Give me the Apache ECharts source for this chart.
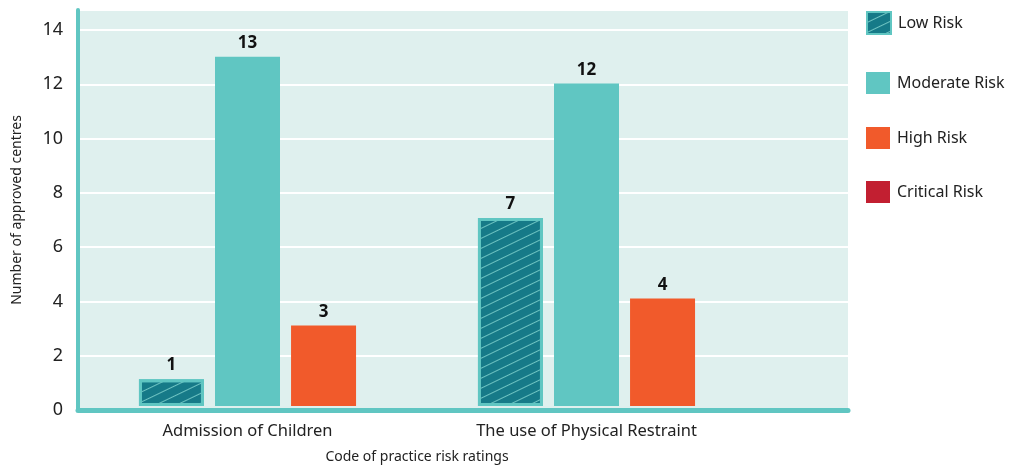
<!DOCTYPE html>
<html>
<head>
<meta charset="utf-8">
<script src="https://cdn.jsdelivr.net/npm/echarts@6/dist/echarts.min.js"></script>
<style>
  html, body { margin: 0; padding: 0; background: #ffffff; }
  #chart { width: 1010px; height: 469px; }
</style>
</head>
<body>
<div id="chart"></div>
<script>
// Code of practice risk ratings by category
const categories = ['Admission of Children', 'The use of Physical Restraint'];
const seriesNames = ['Low Risk', 'Moderate Risk', 'High Risk', 'Critical Risk'];
const lowRisk = [1, 7];
const moderateRisk = [13, 12];
const highRisk = [3, 4];
const criticalRisk = [0, 0];
const yTicks = [0, 2, 4, 6, 8, 10, 12, 14];

const FONT = '"Noto Sans", sans-serif';
const TEAL = '#60c6c2';
const DARK_TEAL = '#167a88';
const ORANGE = '#f15a2b';
const RED = '#c21f31';
const Y_MAX = 14.74;

const BAR_W = 65;
const BAR_GAP = '17%';

// vertical offsets of the stacked legend entries
const legendTops = [11, 72, 127, 181];

const chart = echarts.init(document.getElementById('chart'), null, { renderer: 'canvas' });

const valueLabel = {
  show: true,
  position: 'top',
  distance: 5,
  fontFamily: FONT,
  fontWeight: 'bold',
  fontSize: 17,
  color: '#111'
};

const legends = seriesNames.map((name, i) => ({
  orient: 'vertical',
  left: 866,
  top: legendTops[i],
  padding: 0,
  itemWidth: 24,
  itemHeight: 22,
  icon: 'rect',
  itemStyle: { borderWidth: i === 0 ? 2 : 0 },
  textStyle: { fontFamily: FONT, fontSize: 16, color: '#222', padding: [0, 0, 0, 2] },
  data: [name]
}));

chart.setOption({
  animation: false,
  textStyle: { fontFamily: FONT },
  legend: legends,
  grid: [
    { left: 78, right: 162, top: 10, bottom: 59, show: true, backgroundColor: '#dff0ee', borderWidth: 0 },
    { left: 78, width: 678, top: 10, bottom: 59 }
  ],
  xAxis: [
    {
      type: 'category', gridIndex: 0, data: [''], z: 10,
      axisLine: { show: true, onZero: false, lineStyle: { color: TEAL, width: 5 } },
      axisTick: { show: false }, axisLabel: { show: false }, splitLine: { show: false }
    },
    {
      type: 'category', gridIndex: 1, data: categories,
      name: 'Code of practice risk ratings',
      nameLocation: 'middle', nameGap: 44,
      nameTextStyle: { fontFamily: FONT, fontSize: 14, color: '#222' },
      axisLine: { show: false }, axisTick: { show: false },
      axisLabel: { margin: 17, fontFamily: FONT, fontSize: 16.5, color: '#222' }
    }
  ],
  yAxis: [
    {
      type: 'value', gridIndex: 0, min: 0, max: Y_MAX, interval: 2,
      name: 'Number of approved centres',
      nameLocation: 'middle', nameGap: 54,
      nameTextStyle: { fontFamily: FONT, fontSize: 14, color: '#222' },
      axisLine: { show: true, lineStyle: { color: TEAL, width: 4 } },
      axisTick: { show: false },
      axisLabel: {
        margin: 15, fontFamily: FONT, fontSize: 18, color: '#222',
        showMaxLabel: false,
        formatter: v => (yTicks.indexOf(v) >= 0 ? String(v) : '')
      },
      splitLine: { show: true, lineStyle: { color: '#ffffff', width: 2 } }
    },
    {
      type: 'value', gridIndex: 1, min: 0, max: Y_MAX, interval: 2,
      axisLine: { show: false }, axisTick: { show: false },
      axisLabel: { show: false }, splitLine: { show: false }
    }
  ],
  series: [
    {
      name: seriesNames[0], type: 'bar', xAxisIndex: 1, yAxisIndex: 1,
      data: lowRisk, barWidth: BAR_W, barGap: BAR_GAP,
      itemStyle: {
        color: DARK_TEAL, borderColor: TEAL, borderWidth: 3,
        decal: {
          symbol: 'rect', symbolSize: 1,
          dashArrayX: [[1, 0]], dashArrayY: [1, 7.5],
          rotation: -Math.PI / 7,
          color: 'rgba(125,208,203,0.85)'
        }
      },
      label: valueLabel
    },
    {
      name: seriesNames[1], type: 'bar', xAxisIndex: 1, yAxisIndex: 1,
      data: moderateRisk, barWidth: BAR_W, barGap: BAR_GAP,
      itemStyle: { color: TEAL },
      label: valueLabel
    },
    {
      name: seriesNames[2], type: 'bar', xAxisIndex: 1, yAxisIndex: 1, stack: 'upper',
      data: highRisk, barWidth: BAR_W, barGap: BAR_GAP,
      itemStyle: { color: ORANGE },
      label: valueLabel
    },
    {
      name: seriesNames[3], type: 'bar', xAxisIndex: 1, yAxisIndex: 1, stack: 'upper',
      data: criticalRisk, barWidth: BAR_W, barGap: BAR_GAP,
      itemStyle: { color: RED, borderWidth: 0 },
      label: { show: false }
    }
  ]
});
</script>
</body>
</html>
